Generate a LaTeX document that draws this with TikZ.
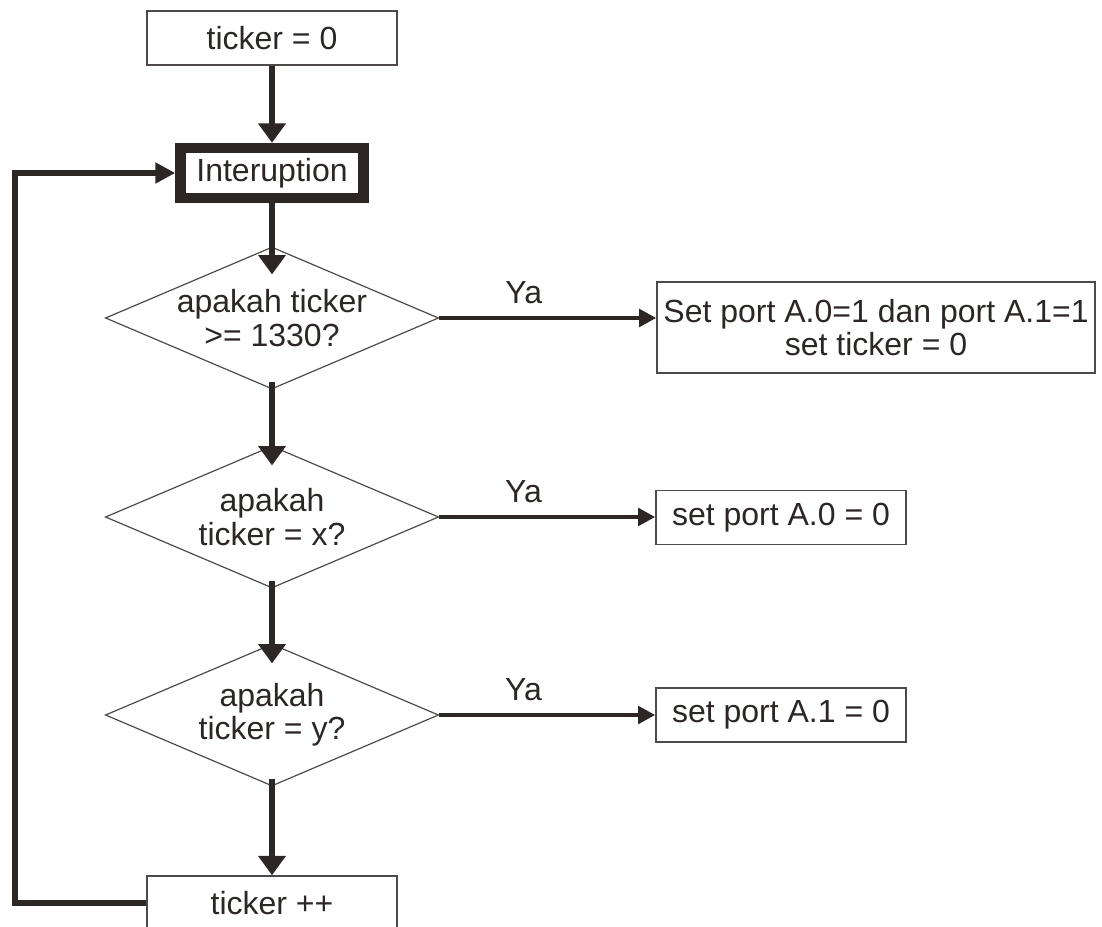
\documentclass[tikz,border=0pt]{standalone}
\usepackage{fontspec}
\setmainfont{Liberation Sans}
\usetikzlibrary{arrows.meta,shapes.geometric}
\definecolor{ink}{RGB}{44,38,37}
\definecolor{rim}{RGB}{78,74,73}

\begin{document}
\begin{tikzpicture}[x=0.75pt,y=0.75pt,yscale=-1,xscale=1,
  font=\fontsize{24}{25}\selectfont, text=ink,
  proc/.style={draw=rim, line width=1.2pt, minimum width=187.5pt, minimum height=40.5pt, inner sep=0pt, align=center},
  intbox/.style={draw=ink, line width=7.8pt, minimum width=137.25pt, minimum height=37.5pt, inner sep=0pt},
  ask/.style={diamond, aspect=2.35, draw=rim, line width=0.9pt, minimum width=250pt, minimum height=106.5pt, inner sep=-1.5pt, align=center},
  down/.style={draw=ink, line width=4pt, -{Triangle[length=14.5pt,width=20pt]}},
  yes/.style={draw=ink, line width=3pt, -{Triangle[length=12.75pt,width=13pt]}},
  back/.style={draw=ink, line width=4.2pt, -{Triangle[length=15pt,width=15pt]}},
  ya/.style={anchor=south, inner xsep=0pt, inner ysep=9pt}]
%uncomment if require: \path (0,927); %set diagram left start at 0, and has height of 927
\useasboundingbox (0,0) rectangle (1102,927);

% Text Node
\node[proc] (start) at (272,38) {ticker = 0};
% Text Node
\node[intbox] (intr) at (272,173) {Interuption};
% Text Node
\node[ask] (q1) at (272,318) {apakah ticker\\>= 1330?};
% Text Node
\node[proc, minimum width=328.5pt, minimum height=68.25pt] (setab) at (876,327.5) {Set port A.0=1 dan port A.1=1\\set ticker = 0};
% Text Node
\node[ask] (q2) at (272,517) {apakah\\ticker = x?};
% Text Node
\node[proc] (seta) at (781,517.5) {set port A.0 = 0};
% Text Node
\node[ask] (q3) at (272,715) {apakah\\ticker = y?};
% Text Node
\node[proc] (setb) at (781,715) {set port A.1 = 0};
% Text Node
\node[proc] (tick) at (272,903) {ticker ++};
\coordinate (corner) at (15,903);

%Straight Lines
\draw[down] (start) -- (intr);
\draw[down, shorten >=-21pt] (intr) -- (q1);
\draw[down, shorten <=-6pt, shorten >=-15pt] (q1) -- (q2);
\draw[down, shorten <=-6pt, shorten >=-15pt] (q2) -- (q3);
\draw[down, shorten <=-6pt] (q3) -- (tick);
%Straight Lines
\draw[yes] (q1.east) -- (q1.east -| setab.west) node[ya, pos=0.39] {Ya};
\draw[yes] (q2.east) -- (q2.east -| seta.west) node[ya, pos=0.39] {Ya};
\draw[yes] (q3.east) -- (q3.east -| setb.west) node[ya, pos=0.39] {Ya};
%Straight Lines
\draw[back] (tick.west) -- (corner) |- (intr.west);

\end{tikzpicture}
\end{document}
